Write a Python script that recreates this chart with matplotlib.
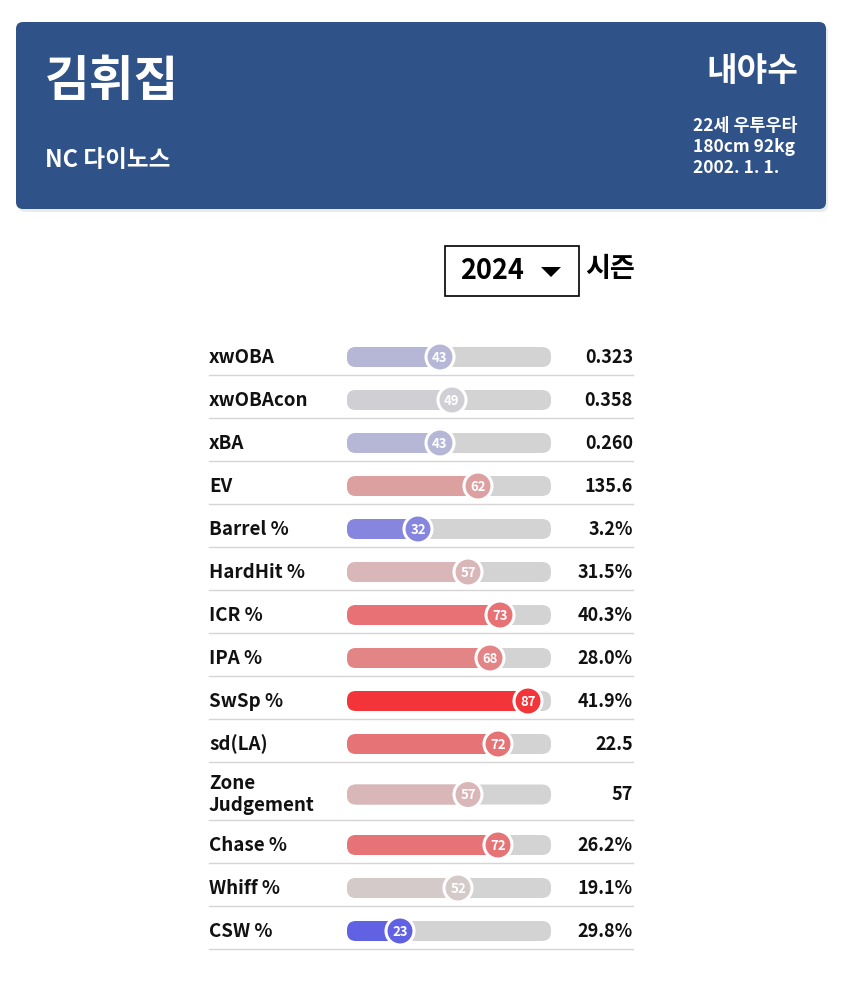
import numpy as np
import matplotlib
matplotlib.use("Agg")
import matplotlib.pyplot as plt
from matplotlib.patches import FancyBboxPatch, Circle, Rectangle, Polygon
from matplotlib.colors import LinearSegmentedColormap

plt.rcParams['font.family'] = ['Noto Sans CJK KR', 'DejaVu Sans']

# --- data ---
player_name = "김휘집"
team = "NC 다이노스"
position = "내야수"
info_lines = ["22세 우투우타", "180cm 92kg", "2002. 1. 1."]
season = "2024"

metrics = ["xwOBA", "xwOBAcon", "xBA", "EV", "Barrel %", "HardHit %", "ICR %",
           "IPA %", "SwSp %", "sd(LA)", "Zone\nJudgement", "Chase %", "Whiff %", "CSW %"]
percentiles = [43, 49, 43, 62, 32, 57, 73, 68, 87, 72, 57, 72, 52, 23]
values = ["0.323", "0.358", "0.260", "135.6", "3.2%", "31.5%", "40.3%", "28.0%",
          "41.9%", "22.5", "57", "26.2%", "19.1%", "29.8%"]

# percentile colour scale: blue -> grey -> red
cmap = LinearSegmentedColormap.from_list(
    "pct", [(0.0, "#3535f0"), (0.2, "#5555e5"), (0.5, "#d3d3d3"),
            (0.9, "#f5282d"), (1.0, "#f5282d")])

fig = plt.figure(figsize=(8.5, 10.05), dpi=100)
ax = fig.add_axes([0, 0, 1, 1])
ax.set_xlim(0, 850)
ax.set_ylim(1005, 0)
ax.axis("off")

# header card
ax.add_patch(FancyBboxPatch((18, 25), 810, 187, boxstyle="round,pad=0,rounding_size=7",
                            fc="#000000", ec="none", alpha=0.08, zorder=1))
ax.add_patch(FancyBboxPatch((16, 22), 810, 187, boxstyle="round,pad=0,rounding_size=7",
                            fc="#2f5288", ec="none", zorder=2))
ax.text(45, 81, player_name, color="white", fontsize=35, fontweight="bold",
        va="center", ha="left", zorder=3)
ax.text(45, 160, team, color="white", fontsize=17, fontweight="bold",
        va="center", ha="left", zorder=3)
ax.text(798, 71, position, color="white", fontsize=24, fontweight="bold",
        va="center", ha="right", zorder=3)
for i, line in enumerate(info_lines):
    ax.text(693, 126 + i * 21, line, color="white", fontsize=12.5, fontweight="bold",
            va="center", ha="left", zorder=3)

# season selector
ax.add_patch(Rectangle((445.5, 245.5), 134, 50, fc="white", ec="black", lw=1.2, zorder=2))
ax.text(460, 271, season, fontsize=19.5, fontweight="bold", va="center", ha="left", zorder=3)
ax.add_patch(Polygon([[541, 267], [561, 267], [551, 277]], closed=True, fc="black",
                     ec="none", zorder=3))
ax.text(585, 269, "시즌", fontsize=19.5, fontweight="bold", va="center", ha="left", zorder=3)

# metric rows
track_x0, track_x1 = 347, 551
bar_h = 20
y_top = 332
for name, pct, val in zip(metrics, percentiles, values):
    row_h = 58 if "\n" in name else 43
    yc = y_top + row_h / 2 + 3.5
    col = cmap(pct / 100)
    cx = 354 + 2 * pct

    ax.text(209, yc, name, fontsize=13.5, fontweight="bold", va="center", ha="left",
            linespacing=1.2, color="#111111", zorder=3)
    ax.text(633, yc, val, fontsize=13, fontweight="bold", va="center", ha="right",
            color="#111111", zorder=3)

    ax.add_patch(FancyBboxPatch((track_x0, yc - bar_h / 2), track_x1 - track_x0, bar_h,
                                boxstyle="round,pad=0,rounding_size=9",
                                fc="#d3d3d3", ec="none", zorder=2))
    ax.add_patch(FancyBboxPatch((track_x0, yc - bar_h / 2), cx - track_x0, bar_h,
                                boxstyle="round,pad=0,rounding_size=9",
                                fc=col, ec="none", zorder=3))
    ax.add_patch(Circle((cx, yc), 14, fc=col, ec="white", lw=2.2, zorder=4))
    ax.text(cx, yc + 0.5, str(pct), fontsize=9.5, fontweight="bold", color="white",
            va="center", ha="center", zorder=5)

    y_top += row_h
    ax.plot([209, 633], [y_top - 0.5, y_top - 0.5], color="#d5d5d5", lw=1, zorder=1)

fig.savefig("out.png", dpi=100, facecolor="white")
